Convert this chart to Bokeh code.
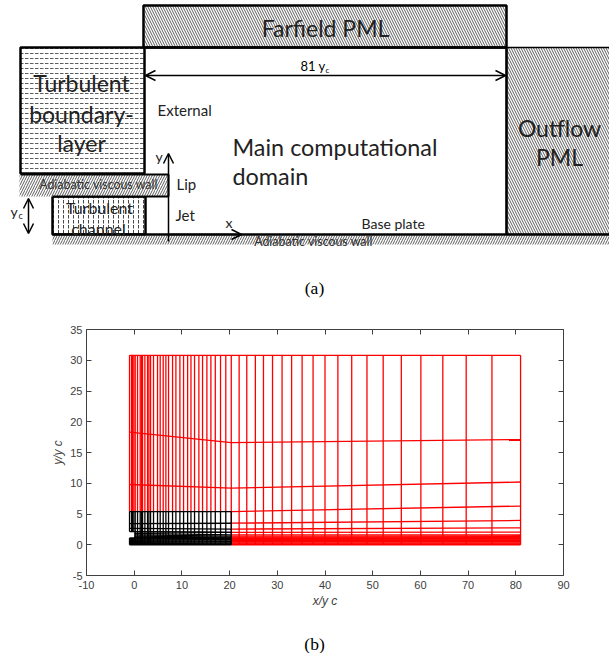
from bokeh.plotting import figure
from bokeh.layouts import column
from bokeh.models import Range1d, LinearAxis, FixedTicker, Arrow, OpenHead
from bokeh.core.properties import value
from bokeh.embed import file_html
from bokeh.resources import INLINE

# ---------- panel (b) data ----------
x_left = [-0.98, -0.56, -0.35, -0.07, 0.21, 0.70, 1.26, 1.54, 1.75, 2.24, 2.8, 3.08, 3.43,
          4.05, 4.89, 5.45, 6.08, 6.64, 7.2, 8.04, 8.74, 9.58, 10.35, 11.2, 11.9, 12.65,
          13.56, 14.33, 15.24, 16.08, 17.0, 18.1, 19.2, 20.35]
x_right = [22.0, 23.6, 25.4, 27.1, 29.0, 31.0, 33.0, 35.2, 37.5, 40.0, 42.7, 45.6, 48.8,
           52.2, 56.0, 60.1, 64.7, 69.6, 75.0, 81.0]
y_top = 30.8
y_left_red_start = [18.3, 9.8]
y_left_red_end = [16.6, 9.2]
y_right_start = [16.6, 9.2, 5.4, 3.5, 2.54, 2.0, 1.6, 1.4, 1.25, 1.12, 1.0, 0.88, 0.77, 0.66, 0.55, 0.42, 0.28, 0.14, 0.0]
y_right_end = [17.1, 10.2, 6.29, 3.95, 2.76, 2.06, 1.6, 1.46, 1.3, 1.15, 1.02, 0.9, 0.78, 0.66, 0.54, 0.42, 0.28, 0.14, 0.0]
y_black_ext_start = [5.4, 3.45, 2.65, 2.15]
y_black_ext_end = [5.4, 3.5, 2.54, 2.0]
y_black_lip_start = [2.15, 1.85, 1.6, 1.4, 1.25, 1.1]
y_black_lip_end = [2.0, 1.6, 1.4, 1.25, 1.12, 1.0]
y_black_jet_start = [1.1, 0.95, 0.8, 0.65, 0.5, 0.35, 0.2, 0.0]
y_black_jet_end = [1.0, 0.88, 0.77, 0.55, 0.42, 0.28, 0.14, 0.0]
y_lip_low, y_lip_high, y_block_top = 1.1, 2.15, 5.4
x_ticks = [-10, 0, 10, 20, 30, 40, 50, 60, 70, 80, 90]
y_ticks = [-5, 0, 5, 10, 15, 20, 25, 30, 35]

# ---------- panel (a): schematic ----------
FONT = value("Lato")
d = figure(width=609, height=310, x_range=Range1d(0, 609), y_range=Range1d(310, 0),
           output_backend="svg", toolbar_location=None, min_border=0, frame_align=False)
d.axis.visible = False
d.grid.visible = False
d.outline_line_color = None

def box(l, r, t, b, pattern, scale=6, weight=1.0, lw=2.5, line="black"):
    d.quad(left=[l], right=[r], top=[t], bottom=[b], fill_color="white",
           hatch_pattern=pattern, hatch_scale=scale, hatch_weight=weight, hatch_color="#333333",
           line_color=line, line_width=lw)

box(143, 506, 5, 47, "left_diagonal_line", 5, 0.8)
box(506, 612, 47, 234, "left_diagonal_line", 5, 0.8, lw=1.5)
box(20, 144, 47, 173, "horizontal_dash", 5, 0.8)
box(52, 145, 196, 234, "vertical_dash", 5, 0.9)
box(19, 168, 174, 196, "right_diagonal_line", 5, 0.8, lw=0, line=None)
box(52, 612, 235, 244, "right_diagonal_line", 5, 0.8, lw=0, line=None)
d.line([52, 168], [196, 196], line_color="black", line_width=2)
d.line([20, 168, 168], [174, 174, 196], line_color="black", line_width=2)
d.line([145, 506], [47, 47], line_color="black", line_width=2.5)
d.line([506, 506], [47, 234], line_color="black", line_width=2.5)
d.line([52, 612], [234, 234], line_color="black", line_width=2.5)

for (x0, y0, x1, y1, both) in [(145, 75, 505, 75, True), (28, 198, 28, 233, True),
                               (168, 241, 168, 153, False), (168, 234, 241, 234, False)]:
    d.add_layout(Arrow(end=OpenHead(size=10, line_width=1.5),
                       start=OpenHead(size=10, line_width=1.5) if both else None,
                       x_start=x0, y_start=y0, x_end=x1, y_end=y1, line_width=1.5))

def txt(x, y, s, size, align="left", family=FONT, color="black", fig=d):
    fig.text(x=[x], y=[y - size * 0.07], text=[s], text_font=family, text_font_size=f"{size}px",
             text_align=align, text_baseline="middle", text_color=color)

DK = "#222222"
txt(325, 29, "Farfield PML", 23, "center", color=DK)
txt(300, 66, "81 y", 13)
txt(325, 70, "c", 8)
txt(157, 111, "External", 15, color=DK)
txt(232, 148, "Main computational", 23.4, color=DK)
txt(232, 177, "domain", 23.4, color=DK)
txt(81, 84, "Turbulent", 23, "center", color=DK)
txt(81, 115, "boundary-", 23, "center", color=DK)
txt(81, 144, "layer", 23, "center", color=DK)
txt(559, 129, "Outflow", 23, "center", color=DK)
txt(559, 158, "PML", 23, "center", color=DK)
txt(176, 185, "Lip", 15, color=DK)
txt(175, 216, "Jet", 15, color=DK)
txt(155, 157, "y", 14, color=DK)
txt(225, 223, "x", 14, color=DK)
txt(98, 185, "Adiabatic viscous wall", 12.4, "center", color="#333333")
txt(313, 242, "Adiabatic viscous wall", 12.4, "center", color="#333333")
txt(99, 208, "Turbulent", 16, "center", color=DK)
txt(98, 229, "channel", 16, "center", color=DK)
txt(10, 212, "y", 14, color=DK)
txt(18, 216, "c", 9, color=DK)
txt(361, 224, "Base plate", 14, color=DK)
txt(314, 289, "(a)", 17.5, "center", family=value("Liberation Serif"))

# ---------- panel (b): grid ----------
p = figure(width=609, height=308, x_range=Range1d(-10, 90), y_range=Range1d(-5, 35),
           output_backend="svg", toolbar_location=None, frame_align=False,
           min_border_left=86, min_border_right=46, min_border_top=19, min_border_bottom=43)
p.grid.visible = False
p.outline_line_color = None
INK = "#404040"

def seg(xs, ys, color):
    p.multi_line(xs, ys, line_color=color, line_width=1.3)

x_mid = x_left[-1]
x_end = x_right[-1]
# red
seg([[x, x] for x in x_left], [[y_block_top, y_top] for _ in x_left], "#ff0000")
seg([[x, x] for x in x_right], [[0, y_top] for _ in x_right], "#ff0000")
seg([[x_mid, x_mid]], [[0, y_block_top]], "#ff0000")
seg([[x_left[0], x_end]], [[y_top, y_top]], "#ff0000")
seg([[x_left[0], x_mid] for _ in y_left_red_start],
    [[a, b] for a, b in zip(y_left_red_start, y_left_red_end)], "#ff0000")
seg([[x_mid, x_end] for _ in y_right_start],
    [[a, b] for a, b in zip(y_right_start, y_right_end)], "#ff0000")
# black
xvs, yvs = [], []
for x in x_left:
    if x < 0:
        xvs += [[x, x], [x, x]]
        yvs += [[0, y_lip_low], [y_lip_high, y_block_top]]
    else:
        xvs.append([x, x])
        yvs.append([0, y_block_top])
seg(xvs, yvs, "black")
seg([[x_left[0], x_mid] for _ in y_black_ext_start],
    [[a, b] for a, b in zip(y_black_ext_start, y_black_ext_end)], "black")
seg([[0, x_mid] for _ in y_black_lip_start],
    [[a, b] for a, b in zip(y_black_lip_start, y_black_lip_end)], "black")
seg([[x_left[0], x_mid] for _ in y_black_jet_start],
    [[a, b] for a, b in zip(y_black_jet_start, y_black_jet_end)], "black")

bottom_ax = p.below[0]
left_ax = p.left[0]
bottom_ax.ticker = FixedTicker(ticks=x_ticks)
left_ax.ticker = FixedTicker(ticks=y_ticks)
bottom_ax.major_label_overrides = {t: str(t) for t in x_ticks}
left_ax.major_label_overrides = {t: str(t) for t in y_ticks}
top = LinearAxis(ticker=FixedTicker(ticks=x_ticks), major_label_overrides={t: "" for t in x_ticks})
right = LinearAxis(ticker=FixedTicker(ticks=y_ticks), major_label_overrides={t: "" for t in y_ticks})
p.add_layout(top, "above")
p.add_layout(right, "right")
for ax in (bottom_ax, left_ax, top, right):
    ax.axis_line_color = INK
    ax.major_tick_line_color = INK
    ax.major_tick_in = 5
    ax.major_tick_out = 0
    ax.minor_tick_line_color = None
    ax.major_label_text_font = "Liberation Sans"
    ax.major_label_text_font_size = "11px"
    ax.major_label_text_color = INK
for ax, lab in ((bottom_ax, "x/y c"), (left_ax, "y/y c")):
    ax.axis_label = lab
    ax.axis_label_text_font = "Liberation Sans"
    ax.axis_label_text_font_style = "italic"
    ax.axis_label_text_font_size = "12px"
    ax.axis_label_text_color = INK
bottom_ax.axis_label_standoff = 2
left_ax.axis_label_standoff = 2
bottom_ax.major_label_standoff = 5
left_ax.major_label_standoff = 4

# ---------- caption (b) ----------
c = figure(width=609, height=35, x_range=Range1d(0, 609), y_range=Range1d(35, 0),
           output_backend="svg", toolbar_location=None, min_border=0, frame_align=False)
c.axis.visible = False
c.grid.visible = False
c.outline_line_color = None
txt(314, 27, "(b)", 17.5, "center", family=value("Liberation Serif"), fig=c)

page = column(d, p, c, spacing=0)
open("out.html", "w").write(file_html(page, INLINE))
